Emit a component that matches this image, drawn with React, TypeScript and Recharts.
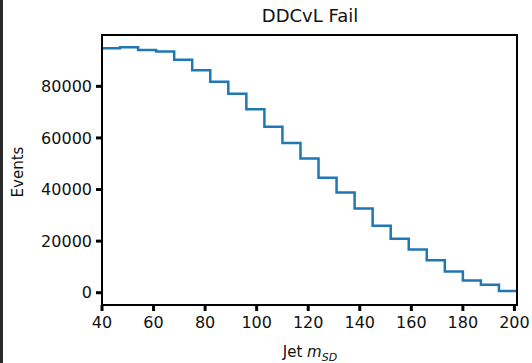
import React from "react";
import { LineChart, Line, XAxis, YAxis, Customized } from "recharts";

const binEdges = [40, 47, 54, 61, 68, 75, 82, 89, 96, 103, 110, 117, 124, 131, 138, 145, 152, 159, 166, 173, 180, 187, 194, 201];
const events = [94750, 95150, 94100, 93480, 90300, 86200, 81800, 77100, 71100, 64300, 58050, 52050, 44550, 38850, 32600, 26000, 20950, 16800, 12550, 8250, 4780, 3100, 660];
const xTicks = [40, 60, 80, 100, 120, 140, 160, 180, 200];
const yTicks = [0, 20000, 40000, 60000, 80000];
const title = "DDCvL Fail";
const yLabel = "Events";

const data = binEdges.map((e, i) => ({ x: e, y: events[Math.min(i, events.length - 1)] }));

const FONT = "'DejaVu Sans', sans-serif";

const Labels = () => (
  <g fontFamily={FONT} fill="#111">
    <text x={310} y={22} textAnchor="middle" fontSize={18}>{title}</text>
    <text x={310} y={357} textAnchor="middle" fontSize={15}>
      Jet <tspan fontStyle="italic">m</tspan>
      <tspan fontStyle="italic" fontSize={11} dy={4}>SD</tspan>
    </text>
    <text x={23} y={172} textAnchor="middle" fontSize={15} transform="rotate(-90 23 172)">{yLabel}</text>
  </g>
);

export default function App() {
  return (
    <div style={{ position: "absolute", left: 0, top: 0, width: 532, height: 363, background: "#fff" }}>
      <div style={{ position: "absolute", left: 0, top: 0, width: 3, height: 363, background: "#2a2a2a" }} />
      <LineChart width={532} height={363} data={data} margin={{ top: 35, right: 15, bottom: 28, left: 42 }}>
        <XAxis
          dataKey="x"
          type="number"
          domain={[40, 201]}
          ticks={xTicks}
          allowDataOverflow
          height={30}
          tickSize={6}
          tickLine={{ stroke: "#000", strokeWidth: 3 }}
          axisLine={{ stroke: "#000", strokeWidth: 2 }}
          tick={{ fill: "#111", fontSize: 16, fontFamily: FONT }}
          tickMargin={6}
        />
        <YAxis
          type="number"
          domain={[-4760, 99900]}
          ticks={yTicks}
          allowDataOverflow
          width={60}
          tickSize={6}
          tickLine={{ stroke: "#000", strokeWidth: 3 }}
          axisLine={{ stroke: "#000", strokeWidth: 2 }}
          tick={{ fill: "#111", fontSize: 16, fontFamily: FONT }}
          tickMargin={4}
        />
        <Line
          type="stepAfter"
          dataKey="y"
          stroke="#1f77b4"
          strokeWidth={2.5}
          dot={false}
          isAnimationActive={false}
        />
        <Customized component={Labels} />
      </LineChart>
      <div
        style={{
          position: "absolute",
          left: 101,
          top: 34,
          width: 417,
          height: 272,
          border: "2px solid #000",
          boxSizing: "border-box",
          pointerEvents: "none",
        }}
      />
    </div>
  );
}
